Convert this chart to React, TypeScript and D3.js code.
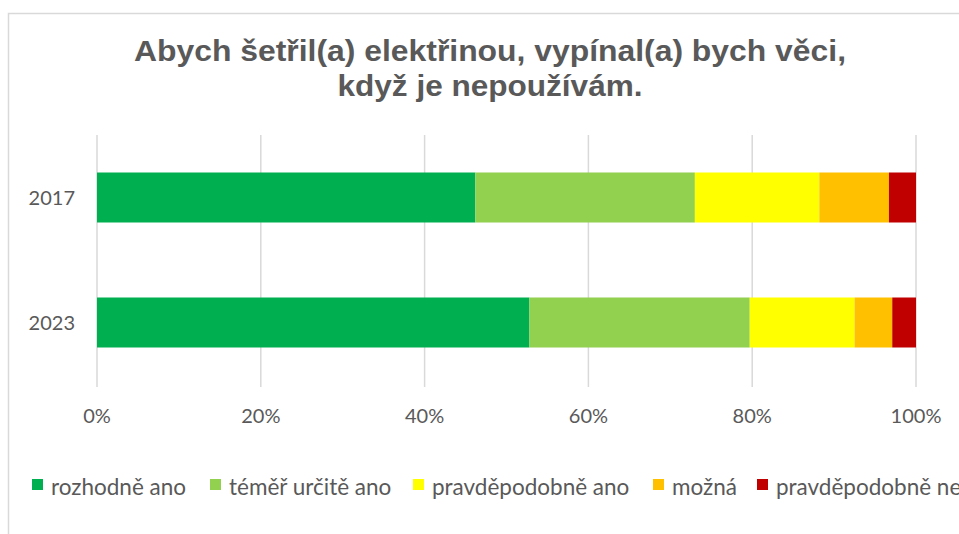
import React from 'react'
import * as d3 from 'd3'

const years = ['2017', '2023']
const answers = ['rozhodně ano', 'téměř určitě ano', 'pravděpodobně ano', 'možná', 'pravděpodobně ne']
const colors = ['#00b050', '#92d050', '#ffff00', '#ffc000', '#c00000']
const share2017 = [46.2, 26.8, 15.2, 8.5, 3.3]
const share2023 = [52.8, 26.9, 12.8, 4.6, 2.9]
const ticks = [0, 20, 40, 60, 80, 100]
const titleLines = ['Abych šetřil(a) elektřinou, vypínal(a) bych věci,', 'když je nepoužívám.']

const W = 959
const H = 534

export default function App() {
  const rows = [share2017, share2023].map((vals, i) => {
    const obj: Record<string, any> = { year: years[i] }
    answers.forEach((a, j) => (obj[a] = vals[j]))
    return obj
  })
  const stacked = d3.stack().keys(answers)(rows as any)

  const x = d3.scaleLinear().domain([0, 100]).range([97, 916])
  const y = d3.scaleBand().domain(years).range([135, 385]).paddingInner(0.6).paddingOuter(0.3)

  const textColor = '#595959'
  const font = 'Lato, "Liberation Sans", sans-serif'

  // legend swatch left edges
  const legendX = [32, 210, 413, 653, 757]
  const titleWidths = [712, 305]

  return (
    <svg width={W} height={H} style={{ position: 'absolute', left: 0, top: 0 }}>
      <rect x={0} y={0} width={W} height={H} fill="#fff" />
      <path d={`M8.5,${H} V13.5 H${W}`} fill="none" stroke="#d9d9d9" strokeWidth={1.5} />

      {titleLines.map((t, i) => (
        <text key={t} x={490} y={61 + i * 35} textAnchor="middle" fill={textColor}
          fontFamily='"Liberation Sans", Arial, sans-serif' fontWeight="bold" fontSize={30}
          textLength={titleWidths[i]} lengthAdjust="spacingAndGlyphs">
          {t}
        </text>
      ))}

      {ticks.map(t => (
        <g key={t}>
          <line x1={x(t)} x2={x(t)} y1={135} y2={387} stroke="#d9d9d9" strokeWidth={1.5} />
          <text x={x(t)} y={423} textAnchor="middle" fill={textColor} fontFamily={font} fontSize={20}>
            {t}%
          </text>
        </g>
      ))}

      {stacked.map((s, j) => (
        <g key={s.key} fill={colors[j]}>
          {s.map((d, i) => (
            <rect key={i} x={x(d[0])} width={x(d[1]) - x(d[0])}
              y={y(years[i])} height={y.bandwidth()} />
          ))}
        </g>
      ))}

      {years.map(yr => (
        <text key={yr} x={75} y={(y(yr) as number) + y.bandwidth() / 2 + 7} textAnchor="end"
          fill={textColor} fontFamily={font} fontSize={20}>
          {yr}
        </text>
      ))}

      {answers.map((a, j) => (
        <g key={a}>
          <rect x={legendX[j]} y={479} width={11} height={11} fill={colors[j]} />
          <text x={legendX[j] + 19} y={495} fill={textColor} fontFamily={font} fontSize={22.5}>
            {a}
          </text>
        </g>
      ))}
    </svg>
  )
}
